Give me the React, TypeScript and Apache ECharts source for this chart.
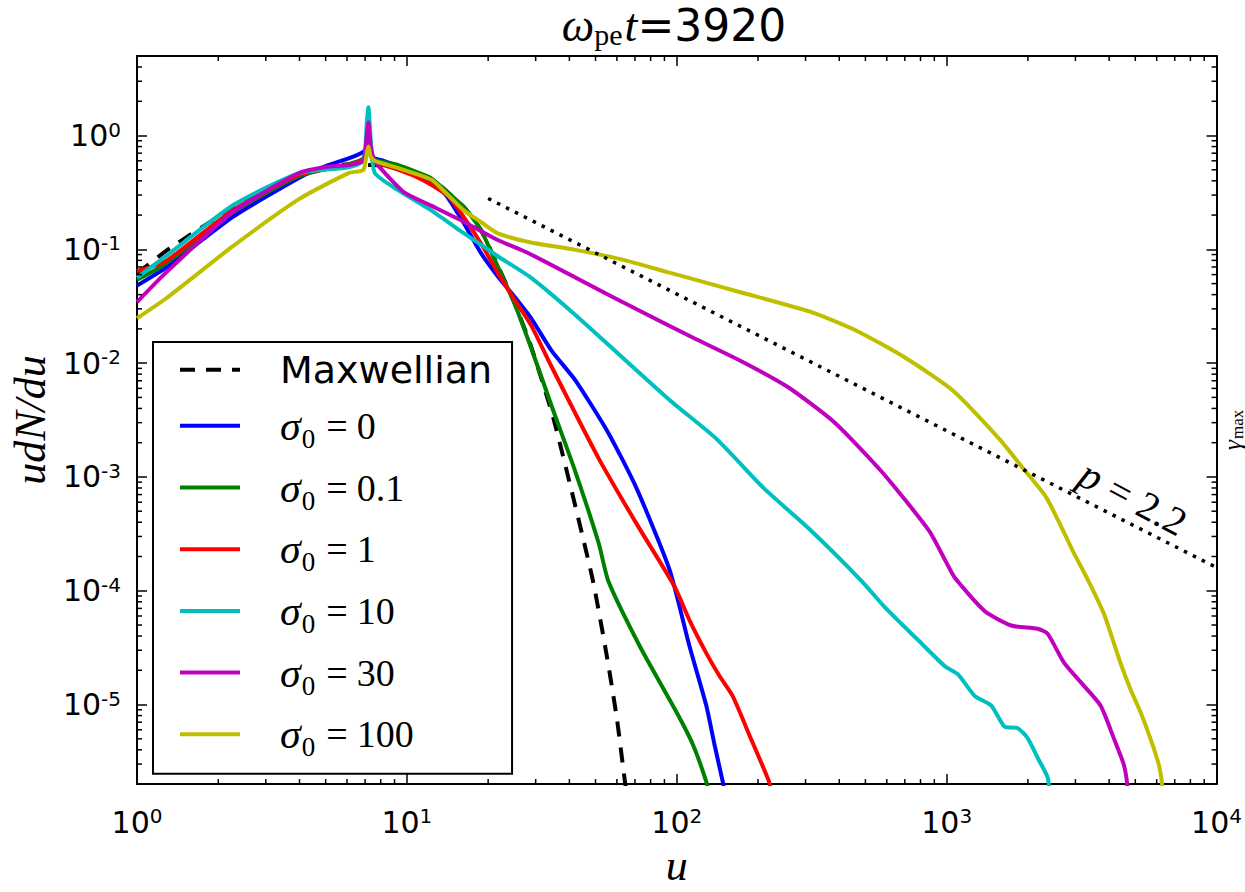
import React, { useEffect, useRef } from 'react';
import * as echarts from 'echarts';

// ---------------- data ----------------
// Maxwellian (black dashed)
const uMaxwellian = [1, 1.08, 1.32, 2.26, 3.98, 6.08, 7.4, 9.3, 12.3, 14.1, 16.3, 18.8, 21.7, 24.9, 28.8, 35, 48.5, 55.1, 60, 64.3, 66];
const vMaxwellian = [0.062, 0.071, 0.102, 0.23, 0.45, 0.56, 0.55, 0.53, 0.42, 0.32, 0.234, 0.148, 0.072, 0.035, 0.0142, 0.0032, 1.34e-4, 2.64e-5, 7.5e-6, 2.08e-6, 1.4e-6];

// sigma0 = 0 (blue)
const uSigma0 = [1, 1.28, 2.26, 3.98, 5, 6.08, 6.9, 7.2, 7.5, 8.2, 9.3, 10.7, 12.3, 14.1, 16.3, 18.8, 21.7, 24.9, 28.8, 34.4, 42.1, 55.7, 70.9, 94, 111.6, 128.6, 138, 148, 152];
const vSigma0 = [0.048, 0.069, 0.192, 0.424, 0.54, 0.63, 0.72, 0.85, 0.64, 0.6, 0.54, 0.47, 0.4, 0.29, 0.168, 0.093, 0.058, 0.039, 0.025, 0.0128, 0.00706, 0.00245, 7.98e-4, 1.53e-4, 3.22e-5, 9.8e-6, 4.43e-6, 2.1e-6, 1.5e-6];

// sigma0 = 0.1 (green)
const uSigma01 = [1, 1.28, 2.26, 3.98, 6.08, 6.9, 7.2, 7.5, 9.3, 12.3, 14.1, 16.3, 18.8, 21.7, 24.9, 28.8, 34.4, 42.1, 51.4, 55.8, 73.1, 99.7, 114.8, 128.6, 133];
const vSigma01 = [0.054, 0.075, 0.21, 0.44, 0.56, 0.63, 0.9, 0.62, 0.55, 0.42, 0.32, 0.234, 0.148, 0.071, 0.0344, 0.0138, 0.00418, 0.00111, 2.6e-4, 1.21e-4, 3.22e-5, 8.6e-6, 4.44e-6, 2.1e-6, 1.5e-6];

// sigma0 = 1 (red)
const uSigma1 = [1, 1.28, 2.26, 3.98, 6.08, 6.9, 7.2, 7.5, 9.3, 10.7, 12.3, 14.2, 16.3, 18.8, 21.7, 24.9, 28.8, 34.4, 51.4, 70.9, 97.9, 111.6, 128.6, 144, 161, 185.7, 220, 225];
const vSigma1 = [0.0645, 0.0787, 0.22, 0.45, 0.55, 0.62, 0.85, 0.6, 0.5, 0.44, 0.37, 0.295, 0.19, 0.113, 0.0624, 0.0369, 0.0217, 0.00925, 0.00145, 3.89e-4, 1.1e-4, 5.46e-5, 2.83e-5, 1.78e-5, 1.19e-5, 5.41e-6, 2.08e-6, 1.5e-6];

// sigma0 = 10 (cyan)
const uSigma10 = [1, 1.28, 2.26, 3.98, 6.08, 6.9, 7.1, 7.2, 7.35, 7.6, 9.3, 12.3, 16.3, 18.8, 21.7, 28.8, 42.1, 94, 140.6, 210, 314, 485, 592, 785, 985, 1102, 1270, 1463, 1638, 1834, 1995, 2173, 2365, 2420];
const vSigma10 = [0.0565, 0.087, 0.243, 0.468, 0.527, 0.6, 1.3, 1.77, 0.9, 0.47, 0.33, 0.22, 0.138, 0.11, 0.087, 0.0565, 0.0265, 0.00475, 0.00215, 7.98e-4, 3.38e-4, 1.21e-4, 7.1e-5, 3.67e-5, 2.17e-5, 1.84e-5, 1.19e-5, 9.8e-6, 6.4e-6, 6.2e-6, 5.07e-6, 3.41e-6, 2.3e-6, 1.5e-6];

// sigma0 = 30 (magenta)
const uSigma30 = [1, 1.28, 2.26, 3.98, 5, 6.08, 6.9, 7.1, 7.2, 7.35, 7.6, 8.28, 9.8, 12.3, 16.3, 21.7, 28.1, 62.9, 115, 172, 257, 385, 575, 860, 1000, 1072, 1382, 1733, 2173, 2365, 2725, 3226, 3717, 4160, 4527, 4656, 4700];
const vSigma30 = [0.0344, 0.0624, 0.212, 0.468, 0.53, 0.55, 0.6, 1.0, 1.3, 0.8, 0.6, 0.47, 0.315, 0.242, 0.174, 0.121, 0.093, 0.0344, 0.0167, 0.0105, 0.0062, 0.003, 0.00111, 3.38e-4, 1.75e-4, 1.3e-4, 6.65e-5, 4.95e-5, 4.63e-5, 4.2e-5, 2.32e-5, 1.46e-5, 9.8e-6, 5.07e-6, 2.99e-6, 2.1e-6, 1.5e-6];

// sigma0 = 100 (yellow)
const uSigma100 = [1, 1.28, 2.26, 3.98, 6.08, 6.9, 7.1, 7.2, 7.35, 7.6, 9.3, 12.3, 14.1, 16.3, 18.8, 21.7, 28.8, 42.1, 62.9, 94, 172, 314, 469, 700, 1051, 1569, 1915, 2345, 2965, 3358, 3828, 4406, 4797, 5225, 5680, 6100, 6270, 6350];
const vSigma100 = [0.0248, 0.037, 0.106, 0.276, 0.468, 0.5, 0.7, 0.8, 0.65, 0.6, 0.517, 0.41, 0.305, 0.219, 0.174, 0.138, 0.115, 0.099, 0.0813, 0.0624, 0.042, 0.0282, 0.019, 0.0112, 0.00578, 0.00215, 0.0012, 6.55e-4, 2.13e-4, 1.21e-4, 6.24e-5, 2.32e-5, 1.36e-5, 8.6e-6, 5.07e-6, 3e-6, 2.1e-6, 1.5e-6];

// reference power law p = 2.2 (dotted), end points
const uPowerLaw = [20, 10000];
const vPowerLaw = [0.28, 1.6e-4];

const sigmaLabels = ['0', '0.1', '1', '10', '30', '100'];
const xTickExponents = [0, 1, 2, 3, 4];
const minorMultipliers = [2, 3, 4, 5, 6, 7, 8, 9];
const yDecades = [-6, -5, -4, -3, -2, -1, 0];

const X_MIN = 1;
const X_MAX = 1e4;
const Y_MIN = 2e-6;
const Y_MAX = 5;

// ---------------- helpers ----------------
const lg = (v: number) => Math.log10(v);
const toPairs = (u: number[], v: number[]) => u.map((x, i) => [lg(x), lg(v[i])]);

const xLo = lg(X_MIN);
const xHi = lg(X_MAX);
const yLo = lg(Y_MIN);
const yHi = lg(Y_MAX);

const xMinor: number[] = [];
xTickExponents.slice(0, -1).forEach((e) => minorMultipliers.forEach((m) => xMinor.push(lg(m) + e)));
const yMinor: number[] = [];
yDecades.forEach((e) => minorMultipliers.forEach((m) => {
  const v = lg(m) + e;
  if (v > yLo && v < yHi) yMinor.push(v);
}));

const sigmaName = (s: string) => 'σ0 = ' + s;

const curves = [
  { name: 'Maxwellian', u: uMaxwellian, v: vMaxwellian, color: '#000000', dash: [15, 11] as any },
  { name: sigmaName(sigmaLabels[0]), u: uSigma0, v: vSigma0, color: '#0000ff', dash: 'solid' as any },
  { name: sigmaName(sigmaLabels[1]), u: uSigma01, v: vSigma01, color: '#008000', dash: 'solid' as any },
  { name: sigmaName(sigmaLabels[2]), u: uSigma1, v: vSigma1, color: '#ff0000', dash: 'solid' as any },
  { name: sigmaName(sigmaLabels[3]), u: uSigma10, v: vSigma10, color: '#00bfbf', dash: 'solid' as any },
  { name: sigmaName(sigmaLabels[4]), u: uSigma30, v: vSigma30, color: '#bf00bf', dash: 'solid' as any },
  { name: sigmaName(sigmaLabels[5]), u: uSigma100, v: vSigma100, color: '#bfbf00', dash: 'solid' as any },
];

const tickRich = {
  b: { fontFamily: 'DejaVu Sans', fontSize: 30, lineHeight: 34, color: '#000' },
  e: { fontFamily: 'DejaVu Sans', fontSize: 20, lineHeight: 20, padding: [0, 0, 12, 0], color: '#000' },
};

const isInt = (v: number) => Math.abs(v - Math.round(v)) < 1e-6;
const powLabel = (v: number) => (isInt(v) ? '{b|10}{e|' + Math.round(v) + '}' : '');

const legendRich = {
  m: { fontFamily: 'DejaVu Sans', fontSize: 38, lineHeight: 52, color: '#000' },
  s: { fontFamily: 'Liberation Serif', fontStyle: 'italic', fontSize: 42, lineHeight: 52, color: '#000' },
  sub: { fontFamily: 'Liberation Serif', fontSize: 27, lineHeight: 24, padding: [26, 2, 0, 1], color: '#000' },
  eq: { fontFamily: 'Liberation Serif', fontSize: 38, lineHeight: 52, padding: [0, 9, 0, 9], color: '#000' },
  n: { fontFamily: 'Liberation Serif', fontSize: 38, lineHeight: 52, color: '#000' },
};

const legendFormatter = (name: string) => {
  if (name === 'Maxwellian') return '{m|Maxwellian}';
  const val = name.split('= ')[1];
  return '{s|σ}{sub|0}{eq|=}{n|' + val + '}';
};

const minorTickSeries = (axis: 'x' | 'y') => ({
  type: 'custom',
  silent: true,
  clip: false,
  z: 5,
  data: axis === 'x' ? xMinor.map((v) => [v, yLo]) : yMinor.map((v) => [xLo, v]),
  renderItem: (_params: any, api: any) => {
    const st = { stroke: '#000', lineWidth: 1.5 };
    if (axis === 'x') {
      const xv = api.value(0);
      const b = api.coord([xv, yLo]);
      const t = api.coord([xv, yHi]);
      return {
        type: 'group',
        children: [
          { type: 'line', shape: { x1: b[0], y1: b[1], x2: b[0], y2: b[1] - 5 }, style: st },
          { type: 'line', shape: { x1: t[0], y1: t[1], x2: t[0], y2: t[1] + 5 }, style: st },
        ],
      };
    }
    const yv = api.value(1);
    const l = api.coord([xLo, yv]);
    const r = api.coord([xHi, yv]);
    return {
      type: 'group',
      children: [
        { type: 'line', shape: { x1: l[0], y1: l[1], x2: l[0] + 5, y2: l[1] }, style: st },
        { type: 'line', shape: { x1: r[0], y1: r[1], x2: r[0] - 5, y2: r[1] }, style: st },
      ],
    };
  },
});

const axisCommon = {
  axisLine: { show: true, onZero: false, lineStyle: { color: '#000', width: 2 } },
  axisTick: { show: true, inside: true, length: 10, lineStyle: { color: '#000', width: 1.5 } },
  splitLine: { show: false },
};

export default function App() {
  const ref = useRef<HTMLDivElement>(null);

  useEffect(() => {
    if (!ref.current) return;
    const chart = echarts.init(ref.current, undefined, { renderer: 'svg' });

    const lineSeries = curves.map((c) => ({
      name: c.name,
      type: 'line',
      data: toPairs(c.u, c.v),
      showSymbol: false,
      symbol: 'none',
      smooth: 0.2,
      clip: true,
      lineStyle: { color: c.color, width: 4, type: c.dash },
      itemStyle: { color: c.color },
      z: 2,
    }));

    const option: any = {
      animation: false,
      backgroundColor: '#ffffff',
      title: {
        text: '{w|ω}{pe|pe}{t|t}{n|=3920}',
        left: 674,
        top: 0,
        padding: 0,
        textAlign: 'center',
        textStyle: {
          fontWeight: 'normal',
          rich: {
            w: { fontFamily: 'Liberation Serif', fontStyle: 'italic', fontWeight: 'normal', fontSize: 46, lineHeight: 50, color: '#000' },
            pe: { fontFamily: 'Liberation Serif', fontWeight: 'normal', fontSize: 30, lineHeight: 28, padding: [18, 2, 0, 0], color: '#000' },
            t: { fontFamily: 'Liberation Serif', fontStyle: 'italic', fontWeight: 'normal', fontSize: 46, lineHeight: 50, color: '#000' },
            n: { fontFamily: 'DejaVu Sans', fontWeight: 'normal', fontSize: 44, lineHeight: 50, color: '#000' },
          },
        },
      },
      grid: { left: 134, top: 56, width: 1086, height: 743, containLabel: false },
      xAxis: [
        {
          type: 'value',
          min: xLo,
          max: xHi,
          interval: 1,
          position: 'bottom',
          ...axisCommon,
          axisLabel: { show: true, margin: 21, formatter: (v: number) => powLabel(v), rich: tickRich },
          name: 'u',
          nameLocation: 'middle',
          nameGap: 78,
          nameTextStyle: { fontFamily: 'Liberation Serif', fontStyle: 'italic', fontSize: 44, color: '#000', verticalAlign: 'middle' },
        },
        {
          type: 'value',
          min: xLo,
          max: xHi,
          interval: 1,
          position: 'top',
          ...axisCommon,
          axisLabel: { show: false },
        },
      ],
      yAxis: [
        {
          type: 'value',
          min: yLo,
          max: yHi,
          minInterval: 1,
          maxInterval: 1,
          position: 'left',
          ...axisCommon,
          axisLabel: { show: true, margin: 16, formatter: (v: number) => powLabel(v), rich: tickRich },
          name: 'udN/du',
          nameLocation: 'middle',
          nameGap: 97,
          nameRotate: 90,
          nameTextStyle: { fontFamily: 'Liberation Serif', fontStyle: 'italic', fontSize: 44, color: '#000', verticalAlign: 'middle' },
        },
        {
          type: 'value',
          min: yLo,
          max: yHi,
          minInterval: 1,
          maxInterval: 1,
          position: 'right',
          ...axisCommon,
          axisLabel: { show: false },
        },
      ],
      legend: {
        orient: 'vertical',
        left: 153,
        top: 342,
        data: curves.map((c) => c.name),
        itemWidth: 60,
        itemHeight: 52,
        itemGap: 8.7,
        padding: [7, 20, 13, 25],
        borderColor: '#000',
        borderWidth: 2,
        borderRadius: 0,
        backgroundColor: '#ffffff',
        selectedMode: false,
        formatter: legendFormatter,
        lineStyle: { width: 4 },
        itemStyle: { opacity: 0 },
        textStyle: { color: '#000', padding: [0, 0, 0, 35], rich: legendRich },
      },
      graphic: [
        {
          type: 'text',
          x: 1133,
          y: 498,
          rotation: -0.49,
          z: 10,
          style: {
            text: '{i|p}{o|=}{n|2.2}',
            align: 'center',
            verticalAlign: 'middle',
            rich: {
              i: { fontFamily: 'Liberation Serif', fontStyle: 'italic', fontSize: 42, lineHeight: 50, fill: '#000' },
              o: { fontFamily: 'Liberation Serif', fontSize: 40, lineHeight: 50, padding: [0, 11, 0, 11], fill: '#000' },
              n: { fontFamily: 'Liberation Serif', fontSize: 40, lineHeight: 50, fill: '#000' },
            },
          },
        },
        {
          type: 'text',
          x: 1232,
          y: 430,
          rotation: Math.PI / 2,
          z: 10,
          style: {
            text: '{g|γ}{m|max}',
            align: 'center',
            verticalAlign: 'middle',
            rich: {
              g: { fontFamily: 'Liberation Serif', fontStyle: 'italic', fontSize: 26, lineHeight: 24, fill: '#000' },
              m: { fontFamily: 'Liberation Serif', fontSize: 17, lineHeight: 14, padding: [10, 0, 0, 1], fill: '#000' },
            },
          },
        },
      ],
      series: [
        ...lineSeries,
        {
          name: 'p = 2.2',
          type: 'line',
          data: toPairs(uPowerLaw, vPowerLaw),
          showSymbol: false,
          symbol: 'none',
          lineStyle: { color: '#000', width: 3.5, type: [3.5, 6.5] },
          z: 3,
        },
        minorTickSeries('x'),
        minorTickSeries('y'),
      ],
    };

    chart.setOption(option);
    return () => chart.dispose();
  }, []);

  return <div ref={ref} style={{ position: 'absolute', left: 0, top: 0, width: 1245, height: 892 }} />;
}
